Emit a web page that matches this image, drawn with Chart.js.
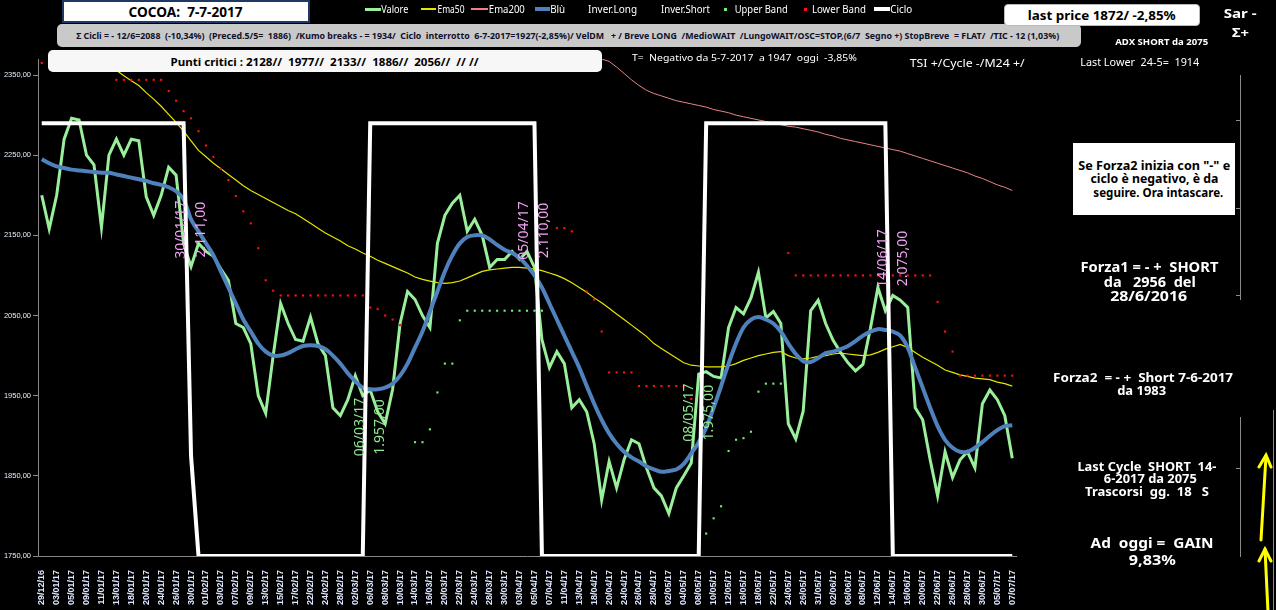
<!DOCTYPE html>
<html><head><meta charset="utf-8">
<script src="https://cdn.jsdelivr.net/npm/chart.js@4.4.1/dist/chart.umd.min.js"></script>
<style>
html,body{margin:0;padding:0;background:#000;}
#wrap{position:relative;width:1276px;height:610px;overflow:hidden;background:#000;}
#c{position:absolute;left:0;top:0;}
.box{position:absolute;box-sizing:border-box;}
.t{position:absolute;white-space:pre;line-height:1;transform-origin:center center;}
</style></head><body>
<div id="wrap"><canvas id="c" width="1276" height="610"></canvas></div>
<script>
// ---------------- DATA ----------------
const categories = ["29/12/16","30/12/16","03/01/17","04/01/17","05/01/17","06/01/17","09/01/17","10/01/17","11/01/17","12/01/17",
"13/01/17","17/01/17","18/01/17","19/01/17","20/01/17","23/01/17","24/01/17","25/01/17","26/01/17","27/01/17",
"30/01/17","31/01/17","01/02/17","02/02/17","03/02/17","06/02/17","07/02/17","08/02/17","09/02/17","10/02/17",
"13/02/17","14/02/17","15/02/17","16/02/17","17/02/17","21/02/17","22/02/17","23/02/17","24/02/17","27/02/17",
"28/02/17","01/03/17","02/03/17","03/03/17","06/03/17","07/03/17","08/03/17","09/03/17","10/03/17","13/03/17",
"14/03/17","15/03/17","16/03/17","17/03/17","20/03/17","21/03/17","22/03/17","23/03/17","24/03/17","27/03/17",
"28/03/17","29/03/17","30/03/17","31/03/17","03/04/17","04/04/17","05/04/17","06/04/17","07/04/17","10/04/17",
"11/04/17","12/04/17","13/04/17","17/04/17","18/04/17","19/04/17","20/04/17","21/04/17","24/04/17","25/04/17",
"26/04/17","27/04/17","28/04/17","01/05/17","02/05/17","03/05/17","04/05/17","05/05/17","08/05/17","09/05/17",
"10/05/17","11/05/17","12/05/17","15/05/17","16/05/17","17/05/17","18/05/17","19/05/17","22/05/17","23/05/17",
"24/05/17","25/05/17","26/05/17","30/05/17","31/05/17","01/06/17","02/06/17","05/06/17","06/06/17","07/06/17",
"08/06/17","09/06/17","12/06/17","13/06/17","14/06/17","15/06/17","16/06/17","19/06/17","20/06/17","21/06/17",
"22/06/17","23/06/17","26/06/17","27/06/17","28/06/17","29/06/17","30/06/17","03/07/17","05/07/17","06/07/17","07/07/17"];

const valore = [2200,2158,2200,2270,2296,2294,2250,2238,2160,2250,
2270,2250,2270,2268,2198,2175,2200,2235,2225,2140,
2111,2140,2130,2124,2108,2094,2040,2035,2015,1950,
1928,2000,2065,2040,2020,2018,2048,2015,2000,1935,
1925,1945,1975,1950,1957,1930,1915,1958,2040,2080,
2070,2050,2035,2140,2175,2190,2200,2155,2170,2150,
2110,2120,2120,2130,2120,2130,2110,2020,1985,2005,
1990,1935,1945,1930,1890,1820,1868,1835,1870,1895,
1890,1860,1835,1825,1803,1835,1850,1866,1977,1980,
1974,1972,2035,2060,2052,2072,2104,2047,2055,2040,
1915,1896,1931,2056,2069,2040,2019,2004,1991,1981,
1989,2034,2085,2056,2075,2069,2060,1935,1920,1870,
1825,1880,1848,1870,1880,1860,1940,1957,1945,1925,1872];

const ema50 = [2440,2432,2424,2416,2408,2398,2390,2380,2369,2362,
2356,2349,2343,2337,2328,2320,2311,2301,2291,2280,
2268,2256,2248,2240,2233,2226,2219,2212,2206,2201,
2196,2191,2186,2181,2177,2171,2165,2159,2153,2148,
2143,2137,2133,2128,2124,2119,2115,2111,2107,2103,
2098,2095,2093,2091,2090,2091,2093,2097,2101,2105,
2107,2108,2109,2110,2110,2109,2108,2106,2103,2100,
2096,2091,2085,2079,2072,2066,2059,2052,2045,2038,
2031,2024,2015,2009,2003,1997,1991,1988,1987,1986,
1986,1986,1987,1990,1994,1997,2000,2002,2004,2005,
2000,1997,1996,1997,1999,2000,2002,2003,2002,2001,
2000,2001,2004,2008,2011,2014,2010,2004,1998,1993,
1988,1982,1979,1976,1974,1972,1971,1970,1967,1965,1962];

const ema200 = [2560,2557,2555,2552,2550,2547,2545,2542,2540,2537,
2535,2532,2530,2527,2525,2522,2520,2517,2515,2512,
2510,2507,2505,2502,2500,2497,2495,2492,2490,2487,
2485,2482,2480,2477,2475,2472,2470,2467,2465,2462,
2460,2457,2455,2452,2450,2447,2445,2442,2440,2437,
2435,2432,2430,2427,2425,2422,2420,2417,2415,2412,
2410,2407,2404,2401,2398,2395,2392,2389,2386,2383,
2380,2378,2376,2374,2372,2370,2367,2360,2352,2344,
2337,2331,2327,2324,2321,2318,2316,2314,2312,2310,
2307,2305,2303,2300,2298,2296,2294,2292,2290,2288,
2286,2285,2283,2281,2279,2276,2274,2271,2269,2267,
2265,2263,2261,2259,2257,2255,2252,2249,2246,2243,
2240,2237,2234,2231,2228,2224,2221,2217,2213,2210,2206];

const blu = [2245,2240,2236,2234,2232,2231,2230,2229,2228,2228,
2226,2224,2222,2220,2218,2215,2213,2210,2205,2195,
2170,2155,2140,2125,2105,2085,2065,2045,2030,2015,
2005,2000,2000,2003,2008,2012,2013,2012,2008,2000,
1990,1978,1968,1960,1958,1958,1960,1965,1975,1990,
2010,2030,2055,2080,2105,2125,2140,2148,2150,2150,
2145,2138,2132,2128,2122,2112,2100,2085,2065,2045,
2025,2005,1985,1962,1940,1920,1903,1890,1880,1873,
1868,1862,1858,1855,1856,1858,1865,1878,1892,1910,
1935,1962,1990,2015,2035,2045,2048,2045,2040,2030,
2015,2002,1993,1992,1997,2003,2005,2008,2012,2018,
2025,2030,2033,2032,2030,2025,2010,1985,1960,1935,
1912,1895,1885,1880,1880,1885,1892,1900,1907,1912,1913];

const inverLong = [];
const inverShort = [];

const upperBand = [null,null,null,null,null,null,null,null,null,null,
null,null,null,null,null,null,null,null,null,null,
null,null,null,null,null,null,null,null,null,null,
null,null,null,null,null,null,null,null,null,null,
null,null,null,null,null,null,null,null,null,null,
1892,1892,1908,1954,1990,1990,2044,2056,2056,2056,
2056,2056,2056,2056,2056,2056,2056,2056,null,null,
null,null,null,null,null,null,null,null,null,null,
null,null,null,null,null,null,null,null,1778,1778,
1797,1812,1881,1895,1897,1905,1955,1965,1965,1965,
null,null,null,null,null,null,null,null,null,null,
null,null,null,null,null,null,null,null,null,null,
null,null,null,null,null,null,null,null,null,null,null];

const lowerBand = [2365,2360,2360,2360,2360,2360,2360,2360,2360,2360,
2344,2344,2344,2344,2344,2344,2344,2330,2318,2305,
2296,2280,2262,2248,2233,2219,2199,2180,2165,2134,
2094,2081,2075,2075,2075,2075,2075,2075,2075,2075,
2075,2075,2075,2075,2060,2058,2050,2045,2038,null,
null,null,null,null,null,null,null,null,null,null,
null,null,null,null,null,null,null,null,null,2159,
2159,2155,null,2080,2070,2030,1979,1979,1979,1979,
1962,1962,1962,1962,1962,1962,1962,1946,null,null,
null,null,null,null,null,null,null,null,null,null,
2128,2100,2100,2100,2100,2100,2100,2100,2100,2100,
2100,2100,2100,2100,2100,2100,2100,2100,2100,2100,
2067,2030,2005,1975,1975,1975,1975,1975,1975,1975,1975];

const ciclo = [2290,2290,2290,2290,2290,2290,2290,2290,2290,2290,
2290,2290,2290,2290,2290,2290,2290,2290,2290,2290,
1875,1750,1750,1750,1750,1750,1750,1750,1750,1750,
1750,1750,1750,1750,1750,1750,1750,1750,1750,1750,
1750,1750,1750,1750,2290,2290,2290,2290,2290,2290,
2290,2290,2290,2290,2290,2290,2290,2290,2290,2290,
2290,2290,2290,2290,2290,2290,2290,1750,1750,1750,
1750,1750,1750,1750,1750,1750,1750,1750,1750,1750,
1750,1750,1750,1750,1750,1750,1750,1750,1750,2290,
2290,2290,2290,2290,2290,2290,2290,2290,2290,2290,
2290,2290,2290,2290,2290,2290,2290,2290,2290,2290,
2290,2290,2290,2290,1750,1750,1750,1750,1750,1750,
1750,1750,1750,1750,1750,1750,1750,1750,1750,1750,1750];

const yTicks = [1750,1850,1950,2050,2150,2250,2350];
const cycleDates = ["30/01/17","06/03/17","05/04/17","08/05/17","14/06/17"];
const cycleValues = [2111,1957,2110,1975,2075];

// ---------------- HELPERS ----------------
function fmtIt(v){
  const p = v.toFixed(2).split('.');
  return p[0].replace(/\B(?=(\d{3})+(?!\d))/g,'.') + ',' + p[1];
}
const wrap = document.getElementById('wrap');
function addBox(l,t,w,h,style){
  const d=document.createElement('div'); d.className='box';
  d.style.left=l+'px'; d.style.top=t+'px'; d.style.width=w+'px'; d.style.height=h+'px';
  Object.assign(d.style, style||{}); wrap.appendChild(d); return d;
}
// place text centred on (cx,cy), horizontally scaled to width w
function addText(txt,cx,cy,w,font,color){
  const s=document.createElement('span'); s.className='t';
  s.textContent=txt; s.style.font=font; s.style.color=color; s.style.lineHeight='1';
  wrap.appendChild(s);
  const r=s.getBoundingClientRect();
  const k = w ? w/r.width : 1;
  s.style.left=(cx-r.width/2)+'px'; s.style.top=(cy-r.height/2)+'px';
  s.style.transform='scaleX('+k+')';
  return s;
}

// ---------------- CHART ----------------
const annotPlugin = {
  id:'annot',
  afterDatasetsDraw(chart){
    const {ctx, scales:{x,y}} = chart;
    ctx.save();
    ctx.font='14px "Noto Sans"';
    ctx.textAlign='center'; ctx.textBaseline='middle';
    cycleDates.forEach((d,k)=>{
      const idx = categories.indexOf(d);
      const down = ciclo[idx+1] < ciclo[idx-1];
      const px = x.getPixelForValue(idx);
      const py = y.getPixelForValue(cycleValues[k]) + (down ? -37 : 37);
      ctx.fillStyle = down ? '#f2a2f2' : '#8ee88e';
      [[d,-10],[fmtIt(cycleValues[k]),10]].forEach(([t,dx])=>{
        ctx.save(); ctx.translate(px+dx, py); ctx.rotate(-Math.PI/2);
        ctx.fillText(t,0,0); ctx.restore();
      });
    });
    ctx.restore();
  }
};
const bgPlugin = {id:'bg', beforeDraw(c){const g=c.ctx; g.save(); g.fillStyle='#000'; g.fillRect(0,0,c.width,c.height); g.restore();}};

const chart = new Chart(document.getElementById('c'), {
  type:'line',
  data:{
    labels:categories,
    datasets:[
      {label:'Valore', data:valore, borderColor:'#9af09a', borderWidth:3, pointRadius:0, order:6},
      {label:'Ema50', data:ema50, borderColor:'#e6e600', borderWidth:1.2, pointRadius:0, order:5},
      {label:'Ema200', data:ema200, borderColor:'#e88484', borderWidth:1, pointRadius:0, order:4},
      {label:'Blù', data:blu, borderColor:'#4f81bd', borderWidth:4, pointRadius:0, tension:0.3, order:3},
      {label:'Inver.Long', data:inverLong, borderColor:'rgba(0,0,0,0)', pointRadius:0, order:7},
      {label:'Inver.Short', data:inverShort, borderColor:'rgba(0,0,0,0)', pointRadius:0, order:8},
      {label:'Upper Band', data:upperBand, showLine:false, pointStyle:'rect', pointRadius:1.5, backgroundColor:'#70f070', borderWidth:0, order:2},
      {label:'Lower Band', data:lowerBand, showLine:false, pointStyle:'rect', pointRadius:1.5, backgroundColor:'#ff1010', borderWidth:0, order:1},
      {label:'Ciclo', data:ciclo, borderColor:'#ffffff', borderWidth:4, pointRadius:0, order:0}
    ]
  },
  options:{
    responsive:false, animation:false, devicePixelRatio:1,
    layout:{padding:{top:59,left:0,right:260,bottom:0}},
    plugins:{legend:{display:false}, tooltip:{enabled:false}},
    scales:{
      x:{type:'category', offset:true,
        afterFit(s){s.height=54;},
        grid:{display:false}, border:{display:true,color:'#888'},
        ticks:{autoSkip:false, minRotation:90, maxRotation:90, padding:6, color:'#dde8ff',
          font:{family:'"Liberation Sans"', size:9, weight:'bold'},
          callback(v,i){return i%2 ? '' : this.getLabelForValue(v);}}
      },
      y:{min:1750, max:2370,
        afterFit(s){s.width=38;},
        afterBuildTicks(s){s.ticks=yTicks.map(v=>({value:v}));},
        grid:{drawOnChartArea:false, drawTicks:true, tickLength:5, color:'#888'},
        border:{display:true,color:'#888'},
        ticks:{padding:2, color:'#e4ecff', font:{family:'"Liberation Sans"', size:7.5},
          callback(v){return Number(v).toFixed(2).replace('.',',');}}
      }
    }
  },
  plugins:[bgPlugin, annotPlugin]
});

// ---------------- OVERLAYS ----------------
addBox(62,0,248,23,{background:'#fff',border:'2px solid #1f3864'});
addText('COCOA:  7-7-2017',186,11.5,114,'bold 14px "Noto Sans"','#000');

// legend built from the chart's datasets: [markerX, markerW, textLeft, textW]
const legendPos = [[365,16,381,27],[421,15,437,27],[471,17,489,36],[535,15,550,15],[null,0,588,49],[null,0,661,49],[725,0,735,53],[805,0,812,54],[874,16,890,22]];
chart.data.datasets.forEach((ds,i)=>{
  const [mx,mw,tx,tw]=legendPos[i];
  if(mx!==null){
    if(ds.showLine===false){
      addBox(mx-1.5,7.5,3,3,{background:ds.backgroundColor});
    } else {
      const bw=Math.max(1.5,ds.borderWidth);
      addBox(mx,9-bw/2,mw,bw,{background:ds.borderColor});
    }
  }
  addText(ds.label,tx+tw/2,9,tw,'10px "Noto Sans"','#fff');
});

// info boxes
addBox(57,24,1024,23,{background:'#c9c9c9',borderRadius:'5px'});
addText('\u03A3 Cicli = - 12/6=2088  (-10,34%)  (Preced.5/5=  1886)  /Kumo breaks - = 1934/  Ciclo  interrotto  6-7-2017=1927(-2,85%)/ VelDM   + / Breve LONG  /MedioWAIT  /LungoWAIT/OSC=STOP,(6/7  Segno +) StopBreve  = FLAT/  /TIC - 12 (1,03%)',568,36,983,'bold 8px "Noto Sans"','#10102a');
addBox(48,50,554,22,{background:'#f7f7f7',borderRadius:'5px'});
addText('Punti critici : 2128//  1977//  2133//  1886//  2056//  // //',324,61,308,'bold 11px "Noto Sans"','#000');
addText('T=  Negativo da 5-7-2017  a 1947  oggi  -3,85%',744,58,225,'9.5px "Noto Sans"','#fff');
addText('TSI +/Cycle -/M24 +/',967,62,115,'11px "Noto Sans"','#fff');
addText('Last Lower  24-5=  1914',1140,62,119,'10.5px "Noto Sans"','#fff');
addText('ADX SHORT da 2075',1162,41,93,'bold 9px "Noto Sans"','#fff');
addBox(1004,4,196,22,{background:'#fff',borderRadius:'4px',border:'1px solid #bbb'});
addText('last price 1872/ -2,85%',1102,15,148,'bold 13px "Noto Sans"','#000');
addText('Sar -',1240,13,33,'bold 13px "Noto Sans"','#fff');
addText('\u03A3+',1240,32,17,'bold 13px "Noto Sans"','#fff');

// right panel
addBox(1073,143,162,72,{background:'#fff'});
addText('Se Forza2 inizia con "-" e',1154,166,152,'bold 12px "Noto Sans"','#000');
addText('ciclo è negativo, è da',1154,179,128,'bold 12px "Noto Sans"','#000');
addText('seguire. Ora intascare.',1158,193,130,'bold 12px "Noto Sans"','#000');
addText('Forza1 = - +  SHORT',1149,268,138,'bold 13.5px "Noto Sans"','#fff');
addText('da   2956  del',1150,283,92,'bold 13.5px "Noto Sans"','#fff');
addText('28/6/2016',1149,297,77,'bold 13.5px "Noto Sans"','#fff');
addText('Forza2  = - +  Short 7-6-2017',1143,378,180,'bold 12px "Noto Sans"','#fff');
addText('da 1983',1142,391,49,'bold 12px "Noto Sans"','#fff');
addText('Last Cycle  SHORT  14-',1147,467,139,'bold 12px "Noto Sans"','#fff');
addText('6-2017 da 2075',1150,479,93,'bold 12px "Noto Sans"','#fff');
addText('Trascorsi  gg.  18   S',1147,492,124,'bold 12px "Noto Sans"','#fff');
addText('Ad  oggi =  GAIN',1152,543,123,'bold 14px "Noto Sans"','#fff');
addText('9,83%',1152,560,47,'bold 14px "Noto Sans"','#fff');

// decorations (svg)
const svgNS='http://www.w3.org/2000/svg';
const svg=document.createElementNS(svgNS,'svg');
svg.setAttribute('width','1276'); svg.setAttribute('height','610');
svg.style.position='absolute'; svg.style.left='0'; svg.style.top='0';
svg.innerHTML = `
<g stroke="#8a8a8a" stroke-width="1" fill="none">
<line x1="1240.5" y1="75" x2="1240.5" y2="300"/>
<line x1="1236" y1="120.5" x2="1240" y2="120.5"/>
<line x1="1236" y1="208.5" x2="1240" y2="208.5"/>
<line x1="1236" y1="295.5" x2="1240" y2="295.5"/>
<line x1="1240.5" y1="417" x2="1240.5" y2="557"/>
<line x1="1236" y1="468.5" x2="1240" y2="468.5"/>
<line x1="1273.5" y1="410" x2="1273.5" y2="610"/>
</g>
<g stroke="#ffff00" stroke-width="3" fill="none" stroke-linecap="round">
<line x1="1261" y1="540" x2="1266" y2="456"/>
<polyline points="1259,467 1266,455 1271,467"/>
<line x1="1265" y1="549" x2="1268" y2="612"/>
<polyline points="1259,561 1265,549 1271,561"/>
</g>`;
wrap.appendChild(svg);
</script>
</body></html>
